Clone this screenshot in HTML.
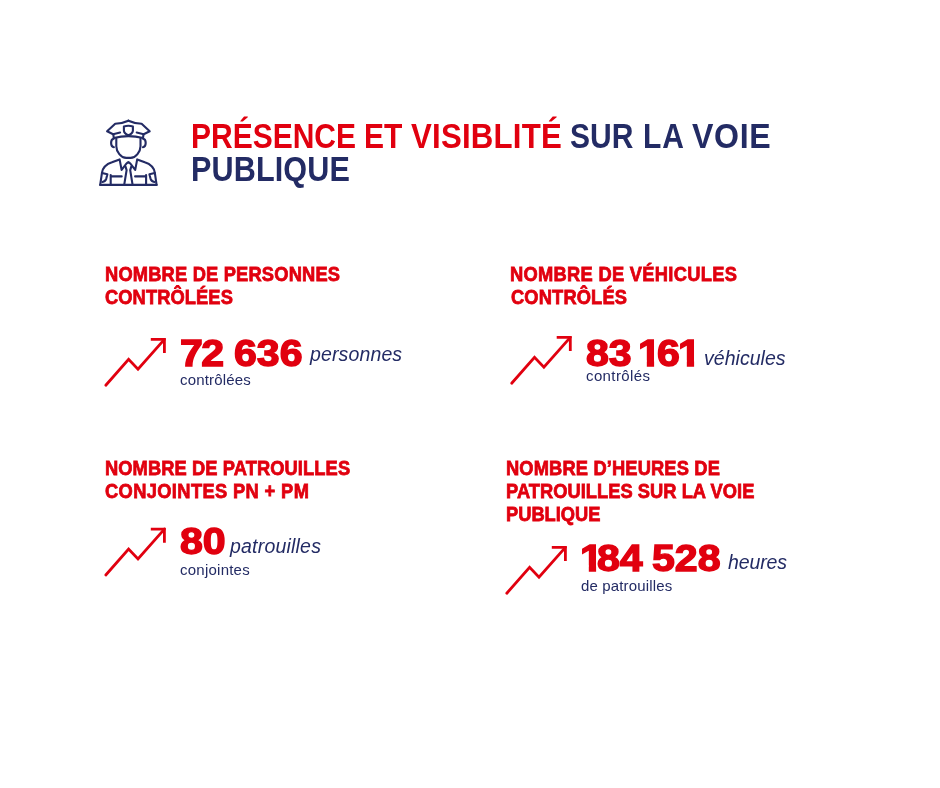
<!DOCTYPE html>
<html lang="fr">
<head>
<meta charset="utf-8">
<title>Présence et visibilité sur la voie publique</title>
<style>
html,body{margin:0;padding:0;background:#fff;}
body{width:940px;height:788px;position:relative;overflow:hidden;font-family:"Liberation Sans",sans-serif;}
.g{position:absolute;left:0;top:0;width:0;height:0;}
.p{position:absolute;white-space:nowrap;line-height:1;transform-origin:0 0;}
.title .p{font-weight:bold;font-size:30px;}
.h .p{font-weight:bold;font-size:18.3px;-webkit-text-stroke:0.7px;}
.num .p{font-weight:bold;font-size:37px;-webkit-text-stroke:1.4px;}
.unit .p{font-style:italic;font-size:19.5px;}
.sub .p{font-size:15px;}
.one{clip-path:polygon(0 0,100% 0,100% 69%,70.5% 69%,70.5% 100%,38.6% 100%,38.6% 69%,0 69%);}
svg{position:absolute;left:0;top:0;overflow:visible;}
</style>
</head>
<body>
<svg width="940" height="788" viewBox="0 0 940 788" fill="none">
<g id="cop" stroke="#232b64" stroke-width="2.1" stroke-linecap="round" stroke-linejoin="round">
<g><path d="M128.4 120.7 Q122.5 123.4 115.2 123.8 L107.1 131.3 L113.1 134.2 L120.1 132.6"/>
<path d="M113.3 134.2 L113.8 138.2"/>
<path d="M113.7 138.8 C110.2 139.3 110.2 146.8 113.9 147.2"/>
<path d="M100.2 184.9 L102 172.6 C103 166.5 107.5 163.8 112 162.3 L119.6 159.4 L121.6 169.9 L126.4 163.7 Q127.4 162.4 128.4 162.4"/>
<path d="M125.5 166.6 L126.6 170.1 L124.2 184.9"/>
<path d="M110.7 175 V184.9 M110.7 176.4 H121.7"/>
<path d="M102 173 L107.4 174.3 L106.3 178.6 Q105.5 181.3 102.4 182"/></g>
<g transform="translate(256.8,0) scale(-1,1)"><path d="M128.4 120.7 Q122.5 123.4 115.2 123.8 L107.1 131.3 L113.1 134.2 L120.1 132.6"/>
<path d="M113.3 134.2 L113.8 138.2"/>
<path d="M113.7 138.8 C110.2 139.3 110.2 146.8 113.9 147.2"/>
<path d="M100.2 184.9 L102 172.6 C103 166.5 107.5 163.8 112 162.3 L119.6 159.4 L121.6 169.9 L126.4 163.7 Q127.4 162.4 128.4 162.4"/>
<path d="M125.5 166.6 L126.6 170.1 L124.2 184.9"/>
<path d="M110.7 175 V184.9 M110.7 176.4 H121.7"/>
<path d="M102 173 L107.4 174.3 L106.3 178.6 Q105.5 181.3 102.4 182"/></g>
<path d="M113.8 138 Q128.4 134.2 143 138"/>
<path d="M123.9 126.4 Q128.4 125 132.9 126.4 V130.5 Q132.9 133.5 128.4 135.3 Q123.9 133.5 123.9 130.5 Z"/>
<path d="M128.4 135.3 V136"/>
<path d="M116.3 138.4 V146.2 C116.3 151.5 121 157.9 126.2 157.9 H130.6 C135.8 157.9 140.5 151.5 140.5 146.2 V138.4"/>
<path d="M100.2 184.9 H156.6"/>
</g>
<g id="arrows" stroke="#e1000f" stroke-width="2.8" stroke-linecap="butt" stroke-linejoin="miter">
<g transform="translate(105.2,339.4)"><path stroke-linecap="round" d="M0.6 45.9 L23.4 20 L32.8 29.9 L59.2 0"/><path d="M45.6 0 H59.2 V13.6"/></g>
<g transform="translate(511.1,337.4)"><path stroke-linecap="round" d="M0.6 45.9 L23.4 20 L32.8 29.9 L59.2 0"/><path d="M45.6 0 H59.2 V13.6"/></g>
<g transform="translate(105.2,529.1)"><path stroke-linecap="round" d="M0.6 45.9 L23.4 20 L32.8 29.9 L59.2 0"/><path d="M45.6 0 H59.2 V13.6"/></g>
<g transform="translate(506.2,547.4)"><path stroke-linecap="round" d="M0.6 45.9 L23.4 20 L32.8 29.9 L59.2 0"/><path d="M45.6 0 H59.2 V13.6"/></g>
</g>
</svg>
<div class="g title" id="t1"><span class="p" style="left:191px;top:119px;color:#e1000f;transform:scale(1,1.155);">PRÉSENCE</span> <span class="p" style="left:364px;top:119px;color:#e1000f;transform:scale(1,1.155);">ET</span> <span class="p" style="left:411px;top:119px;color:#e1000f;letter-spacing:0.21px;transform:scale(1.04,1.155);">VISIBLITÉ</span> <span class="p" style="left:570px;top:119px;color:#232b64;transform:scale(1,1.155);">SUR</span> <span class="p" style="left:643px;top:119px;color:#232b64;letter-spacing:1.00px;transform:scale(1,1.155);">LA</span> <span class="p" style="left:692px;top:119px;color:#232b64;letter-spacing:0.62px;transform:scale(1.07,1.155);">VOIE</span> <span class="p" style="left:191px;top:152px;color:#232b64;letter-spacing:0.11px;transform:scale(1.02,1.155);">PUBLIQUE</span></div>
<div class="g h" id="h1"><span class="p" style="left:105px;top:265px;color:#e1000f;letter-spacing:0.19px;transform:scale(1,1.08);">NOMBRE DE PERSONNES</span> <span class="p" style="left:105px;top:288px;color:#e1000f;letter-spacing:0.10px;transform:scale(1,1.08);">CONTRÔLÉES</span></div>
<div class="g h" id="h2"><span class="p" style="left:510px;top:265px;color:#e1000f;letter-spacing:0.30px;transform:scale(1,1.08);">NOMBRE DE VÉHICULES</span> <span class="p" style="left:511px;top:288px;color:#e1000f;letter-spacing:0.15px;transform:scale(1,1.08);">CONTRÔLÉS</span></div>
<div class="g h" id="h3"><span class="p" style="left:105px;top:459px;color:#e1000f;letter-spacing:0.10px;transform:scale(1,1.08);">NOMBRE DE PATROUILLES</span> <span class="p" style="left:105px;top:482px;color:#e1000f;letter-spacing:0.37px;transform:scale(1,1.08);">CONJOINTES PN + PM</span></div>
<div class="g h" id="h4"><span class="p" style="left:506px;top:459px;color:#e1000f;letter-spacing:0.15px;transform:scale(1,1.08);">NOMBRE D’HEURES DE</span> <span class="p" style="left:506px;top:482px;color:#e1000f;letter-spacing:0.04px;transform:scale(1,1.08);">PATROUILLES SUR LA VOIE</span> <span class="p" style="left:506px;top:505px;color:#e1000f;transform:scale(1,1.08);">PUBLIQUE</span></div>
<div class="g num" id="n1"><span class="p" style="left:180px;top:335px;color:#e1000f;letter-spacing:-1.35px;transform:scale(1.11,1);">72</span> <span class="p" style="left:234px;top:335px;color:#e1000f;transform:scale(1.11,1);">636</span></div>
<div class="g num" id="n2"><span class="p" style="left:586px;top:335px;color:#e1000f;transform:scale(1.11,1);">83</span> <span class="p one" style="left:638px;top:335px;color:#e1000f;transform:scale(1.11,1);">1</span><span class="p" style="left:657px;top:335px;color:#e1000f;transform:scale(1.11,1);">6</span><span class="p one" style="left:678px;top:335px;color:#e1000f;transform:scale(1.11,1);">1</span></div>
<div class="g num" id="n3"><span class="p" style="left:180px;top:523px;color:#e1000f;transform:scale(1.11,1);">80</span></div>
<div class="g num" id="n4"><span class="p one" style="left:580px;top:540px;color:#e1000f;transform:scale(1.11,1);">1</span><span class="p" style="left:597px;top:540px;color:#e1000f;transform:scale(1.11,1);">84</span> <span class="p" style="left:652px;top:540px;color:#e1000f;transform:scale(1.11,1);">528</span></div>
<div class="g unit" id="u1"><span class="p" style="left:310px;top:345px;color:#232b64;letter-spacing:0.13px;">personnes</span></div>
<div class="g unit" id="u2"><span class="p" style="left:704px;top:349px;color:#232b64;letter-spacing:0.03px;">véhicules</span></div>
<div class="g unit" id="u3"><span class="p" style="left:230px;top:537px;color:#232b64;letter-spacing:0.20px;">patrouilles</span></div>
<div class="g unit" id="u4"><span class="p" style="left:728px;top:553px;color:#232b64;letter-spacing:-0.12px;">heures</span></div>
<div class="g sub" id="s1"><span class="p" style="left:180px;top:372px;color:#232b64;letter-spacing:0.16px;">contrôlées</span></div>
<div class="g sub" id="s2"><span class="p" style="left:586px;top:368px;color:#232b64;letter-spacing:0.39px;">contrôlés</span></div>
<div class="g sub" id="s3"><span class="p" style="left:180px;top:562px;color:#232b64;letter-spacing:0.24px;">conjointes</span></div>
<div class="g sub" id="s4"><span class="p" style="left:581px;top:578px;color:#232b64;letter-spacing:0.15px;">de patrouilles</span></div>
</body>
</html>
